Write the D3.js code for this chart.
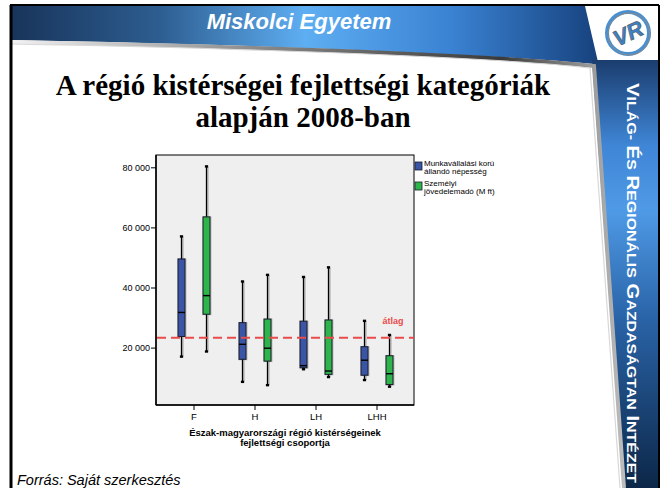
<!DOCTYPE html>
<html>
<head>
<meta charset="utf-8">
<script src="https://cdn.jsdelivr.net/npm/d3@7"></script>
<style>
html,body{margin:0;padding:0;background:#fff;}
svg{display:block;}
</style>
</head>
<body>
<svg id="c" width="666" height="488"></svg>
<script>
// ---- data ----
const categories = ["F", "H", "LH", "LHH"];
const seriesNames = ["Munkavállalási korú állandó népesség", "Személyi jövedelemadó (M ft)"];
const seriesColors = ["#3a55a6", "#2db54b"];
const munkaMin = [17000, 8600, 12800, 9200];
const munkaQ1  = [23700, 16100, 13300, 10800];
const munkaMed = [31700, 21100, 14000, 15800];
const munkaQ3  = [49500, 28300, 28800, 20300];
const munkaMax = [57000, 42000, 43500, 28900];
const szjaMin = [18700, 7500, 10200, 7000];
const szjaQ1  = [31100, 15500, 11100, 7700];
const szjaMed = [37300, 19800, 12200, 11300];
const szjaQ3  = [63500, 29500, 29200, 17300];
const szjaMax = [80300, 44200, 46700, 24200];
const yTicks = [20000, 40000, 60000, 80000];
const yTickLabels = ["20 000", "40 000", "60 000", "80 000"];
const average = 23300;

const svg = d3.select("#c");
const defs = svg.append("defs");
const FONT = "Liberation Sans, Arial, sans-serif";

// ---- slide decoration ----
const hg = defs.append("linearGradient").attr("id","hg").attr("x1","0").attr("x2","1").attr("y1","0").attr("y2","0");
[["0%","#18345a"],["25%","#2d5d90"],["50%","#5eaef2"],["75%","#3a82d2"],["100%","#17427e"]]
  .forEach(s=>hg.append("stop").attr("offset",s[0]).attr("stop-color",s[1]));
const vg = defs.append("linearGradient").attr("id","vg").attr("x1","0").attr("x2","0").attr("y1","0").attr("y2","1");
[["0%","#1b3d6e"],["20%","#3f86d6"],["35%","#4f9ae6"],["60%","#2a64a8"],["100%","#0c2748"]]
  .forEach(s=>vg.append("stop").attr("offset",s[0]).attr("stop-color",s[1]));
const sg = defs.append("linearGradient").attr("id","sg").attr("x1","0").attr("x2","1").attr("y1","0").attr("y2","0");
[["0%","#f2f2f2"],["40%","#8a8a8a"],["80%","#3a3a3a"],["100%","#bdbdbd"]]
  .forEach(s=>sg.append("stop").attr("offset",s[0]).attr("stop-color",s[1]));

// header band
svg.append("path")
  .attr("d","M12,6 L585,6 L598,62 L594,64 C520,57 330,46 12,40 Z")
  .attr("fill","url(#hg)");
// right vertical band
svg.append("path")
  .attr("d","M592,60 L658,60 L658,488 L623,488 Z")
  .attr("fill","url(#vg)");
// silver swoosh
svg.append("path")
  .attr("d","M12,42 C330,48 520,58 594,66 L624,488")
  .attr("fill","none").attr("stroke","url(#sg)").attr("stroke-width",4);
svg.append("path")
  .attr("d","M12,44 C330,50 520,60 590,68 L620,488")
  .attr("fill","none").attr("stroke","#d8d8d8").attr("stroke-width",1.2);

// logo
const logo = svg.append("g").attr("transform","translate(628,33)");
logo.append("circle").attr("r",21).attr("fill","none").attr("stroke","#4a8fd0").attr("stroke-width",4);
logo.append("circle").attr("r",21).attr("fill","none").attr("stroke","#8a8a8a").attr("stroke-width",1).attr("transform","translate(1,1)");
logo.append("text").attr("text-anchor","middle").attr("y",8).attr("transform","rotate(-25)")
  .attr("font-family",FONT).attr("font-weight","bold").attr("font-style","italic")
  .attr("font-size",22).attr("fill","#3b82c8").attr("stroke","#555").attr("stroke-width",0.6).text("VR");

// header title
svg.append("text").attr("x",299).attr("y",29).attr("text-anchor","middle")
  .attr("font-family",FONT).attr("font-weight","bold").attr("font-style","italic")
  .attr("font-size",22).attr("fill","#fff").text("Miskolci Egyetem");

// vertical text (small-caps look built from tspans)
const vt = svg.append("text").attr("transform","translate(627,83) rotate(90)")
  .attr("font-family",FONT).attr("fill","#fff").attr("font-weight","bold")
  .attr("textLength",400).attr("lengthAdjust","spacingAndGlyphs");
const vWords = ["VILÁG-", "ÉS", "REGIONÁLIS", "GAZDASÁGTAN", "INTÉZET"];
vWords.forEach((w,i)=>{
  vt.append("tspan").attr("font-size",16).text((i?" ":"") + w[0]);
  vt.append("tspan").attr("font-size",12.5).text(w.slice(1));
});

// borders
svg.append("line").attr("x1",11).attr("x2",11).attr("y1",5).attr("y2",488).attr("stroke","#000").attr("stroke-width",3);
svg.append("line").attr("x1",10).attr("x2",659).attr("y1",5).attr("y2",5).attr("stroke","#000").attr("stroke-width",2);
svg.append("line").attr("x1",659).attr("x2",659).attr("y1",5).attr("y2",488).attr("stroke","#000").attr("stroke-width",2);

// slide title
const title = svg.append("text").attr("text-anchor","middle")
  .attr("font-family","Liberation Serif, Times New Roman, serif").attr("font-weight","bold")
  .attr("font-size",29).attr("fill","#000");
title.append("tspan").attr("x",303).attr("y",95).text("A régió kistérségei fejlettségi kategóriák");
title.append("tspan").attr("x",303).attr("y",127).text("alapján 2008-ban");

// source
svg.append("text").attr("x",17).attr("y",485)
  .attr("font-family",FONT).attr("font-style","italic").attr("font-size",14.5)
  .attr("fill","#000").text("Forrás: Saját szerkesztés");

// ---- chart ----
const plot = {left:156, right:414, top:155, bottom:405};
const x = d3.scaleBand().domain(categories).range([163.5, 407.5]).padding(0);
const y = d3.scaleLinear().domain([0, 80000]).range([407.7, 167.3]);

svg.append("rect").attr("x",plot.left).attr("y",plot.top)
  .attr("width",plot.right-plot.left).attr("height",plot.bottom-plot.top)
  .attr("fill","#efefef").attr("stroke","#000").attr("stroke-width",1);

// y axis
const yAxis = d3.axisLeft(y).tickValues(yTicks).tickFormat((d,i)=>yTickLabels[i]).tickSize(5).tickPadding(1);
const ya = svg.append("g").attr("transform",`translate(${plot.left},0)`).attr("color","#000").call(yAxis);
ya.select(".domain").remove();
ya.selectAll("text").attr("font-family",FONT).attr("font-size",9).attr("fill","#000");
svg.append("line").attr("x1",plot.left).attr("x2",plot.left).attr("y1",plot.top).attr("y2",plot.bottom).attr("stroke","#000").attr("stroke-width",1.5);

// x axis
const xAxis = d3.axisBottom(x).tickSize(5).tickPadding(3);
const xa = svg.append("g").attr("transform",`translate(0,${plot.bottom})`).attr("color","#000").call(xAxis);
xa.select(".domain").remove();
xa.selectAll("text").attr("font-family",FONT).attr("font-size",9.5).attr("fill","#000");
svg.append("line").attr("x1",plot.left).attr("x2",plot.right).attr("y1",plot.bottom).attr("y2",plot.bottom).attr("stroke","#000").attr("stroke-width",1.5);

// x axis title
const xt = svg.append("text").attr("text-anchor","middle")
  .attr("font-family",FONT).attr("font-weight","bold").attr("font-size",9.5).attr("fill","#000");
xt.append("tspan").attr("x",285).attr("y",436).text("Észak-magyarországi régió kistérségeinek");
xt.append("tspan").attr("x",285).attr("y",446).text("fejlettségi csoportja");

// boxes
const series = [
  {min:munkaMin,q1:munkaQ1,med:munkaMed,q3:munkaQ3,max:munkaMax,off:-12.5,color:seriesColors[0]},
  {min:szjaMin,q1:szjaQ1,med:szjaMed,q3:szjaQ3,max:szjaMax,off:12.5,color:seriesColors[1]}
];
const bw = 7;
series.forEach(s=>{
  categories.forEach((c,i)=>{
    const cx = x(c) + x.bandwidth()/2 + s.off;
    const g = svg.append("g");
    // shadow
    g.append("line").attr("x1",cx+1).attr("x2",cx+1).attr("y1",y(s.max[i])).attr("y2",y(s.min[i]))
      .attr("stroke","#bdbdbd").attr("stroke-width",2.5);
    g.append("rect").attr("x",cx-bw/2-0.5).attr("y",y(s.q3[i])-0.5).attr("width",bw+2)
      .attr("height",y(s.q1[i])-y(s.q3[i])+1.5).attr("fill","#bdbdbd");
    // whisker
    g.append("line").attr("x1",cx).attr("x2",cx).attr("y1",y(s.max[i])).attr("y2",y(s.min[i]))
      .attr("stroke","#000").attr("stroke-width",1.3);
    [s.max[i], s.min[i]].forEach(v=>{
      g.append("rect").attr("x",cx-1.6).attr("y",y(v)-1.2).attr("width",3.2).attr("height",2.4).attr("fill","#000");
    });
    g.append("rect").attr("x",cx-bw/2).attr("y",y(s.q3[i])).attr("width",bw).attr("height",y(s.q1[i])-y(s.q3[i]))
      .attr("fill",s.color).attr("stroke","#1a1a2a").attr("stroke-width",1);
    g.append("line").attr("x1",cx-bw/2).attr("x2",cx+bw/2).attr("y1",y(s.med[i])).attr("y2",y(s.med[i]))
      .attr("stroke","#000").attr("stroke-width",1.4);
  });
});

// average line
svg.append("line").attr("x1",plot.left+1).attr("x2",plot.right).attr("y1",y(average)).attr("y2",y(average))
  .attr("stroke","#e94b4b").attr("stroke-width",2).attr("stroke-dasharray","9,5");
svg.append("text").attr("x",393).attr("y",324).attr("text-anchor","middle")
  .attr("font-family",FONT).attr("font-weight","bold").attr("font-size",9)
  .attr("fill","#e94b4b").text("átlag");

// legend
const legY = [162, 182];
const legLines = [["Munkavállalási korú","állandó népesség"],["Személyi","jövedelemadó (M ft)"]];
seriesNames.forEach((n,i)=>{
  svg.append("rect").attr("x",415).attr("y",legY[i]).attr("width",7).attr("height",8)
    .attr("fill",seriesColors[i]).attr("stroke","#1a1a2a").attr("stroke-width",0.8);
  const t = svg.append("text").attr("font-family",FONT).attr("font-size",8).attr("fill","#000");
  legLines[i].forEach((l,k)=>t.append("tspan").attr("x",424).attr("y",legY[i]+3.5+k*8).text(l));
});
</script>
</body>
</html>
